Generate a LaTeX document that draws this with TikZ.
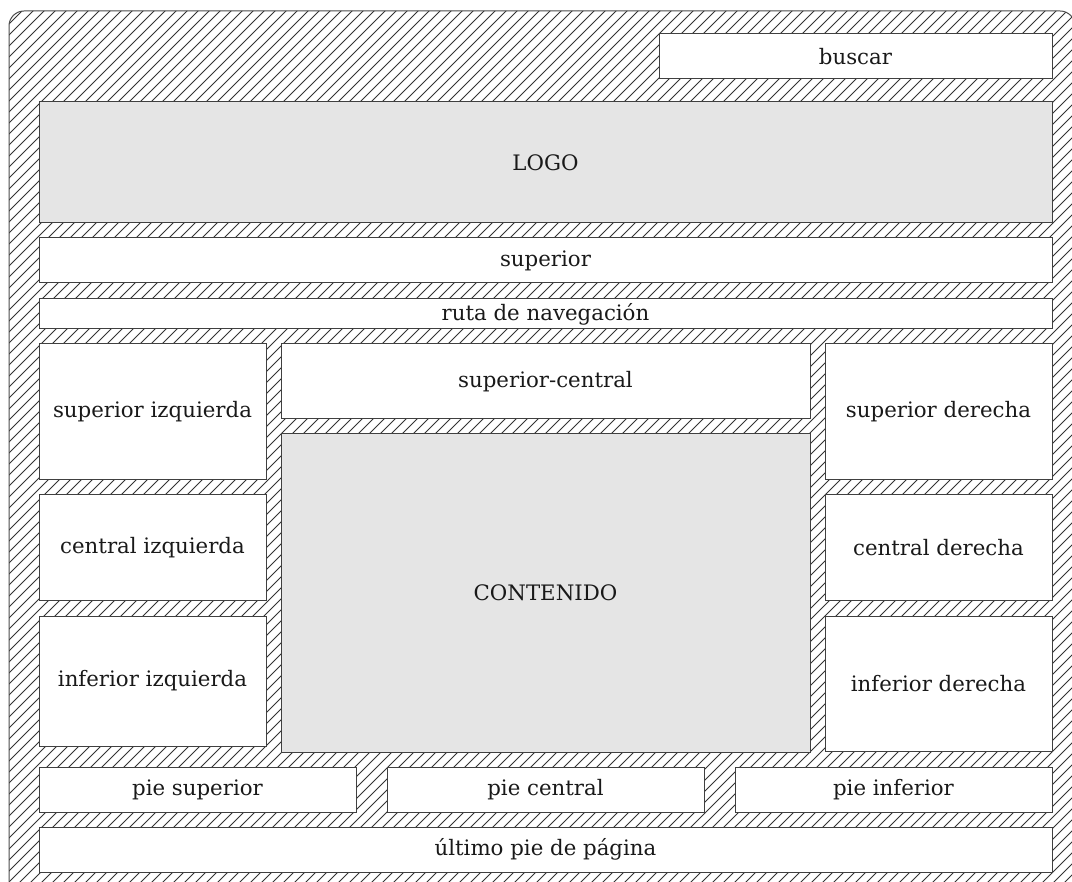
\documentclass[tikz,border=0pt]{standalone}
\usepackage{fontspec}
\setmainfont{DejaVu Serif}
\begin{document}
\begin{tikzpicture}[x=1pt,y=-1pt,
  box/.style={draw=black!75, line width=1pt, fill=white, inner sep=0pt, outer sep=0pt,
    font=\fontsize{21.3}{25}\selectfont, text=black!90},
  graybox/.style={box, fill=black!10},
  hatch/.style={line width=0.9pt, black!80}]
\useasboundingbox (0,0) rectangle (1072,882);
\clip (0,0) rectangle (1072,882);
% outer hatched frame
\begin{scope}
  \clip[rounded corners=15pt] (9,11) rectangle (1075,900);
  \fill[white] (0,0) rectangle (1072,882);
  \foreach \c in {0,11,...,2000} {
    \draw[hatch] (\c,0) -- (\c-900,900);
  }
\end{scope}
\draw[black!70, line width=1pt, rounded corners=15pt] (9,11) rectangle (1075,900);
% boxes
\node[box, minimum width=393pt, minimum height=45pt] (buscar) at (855.5,56.5) {buscar};
\node[graybox, minimum width=1013pt, minimum height=121pt] (logo) at (545.5,162.5) {LOGO};
\node[box, minimum width=1013pt, minimum height=45pt] (superior) at (545.5,260.5) {superior};
\node[box, minimum width=1013pt, minimum height=30pt] (ruta) at (545.5,314) {ruta de navegación};
\node[box, minimum width=227pt, minimum height=136pt] (supizq) at (152.5,412) {superior izquierda};
\node[box, minimum width=529pt, minimum height=75pt] (supcen) at (545.5,381.5) {superior-central};
\node[graybox, minimum width=529pt, minimum height=318pt] (contenido) at (545.5,593) {CONTENIDO};
\node[box, minimum width=227pt, minimum height=136pt] (supder) at (938.5,412) {superior derecha};
\node[box, minimum width=227pt, minimum height=106pt] (cenizq) at (152.5,548) {central izquierda};
\node[box, minimum width=227pt, minimum height=106pt] (cender) at (938.5,548) {central derecha};
\node[box, minimum width=227pt, minimum height=130pt] (infizq) at (152.5,681) {inferior izquierda};
\node[box, minimum width=227pt, minimum height=135pt] (infder) at (938.5,683.5) {inferior derecha};
\node[box, minimum width=317pt, minimum height=45pt] (piesup) at (197.5,789.5) {pie superior};
\node[box, minimum width=317pt, minimum height=45pt] (piecen) at (545.5,789.5) {pie central};
\node[box, minimum width=317pt, minimum height=45pt] (pieinf) at (893.5,789.5) {pie inferior};
\node[box, minimum width=1013pt, minimum height=45pt] (ultimo) at (545.5,849.5) {último pie de página};
\end{tikzpicture}
\end{document}
